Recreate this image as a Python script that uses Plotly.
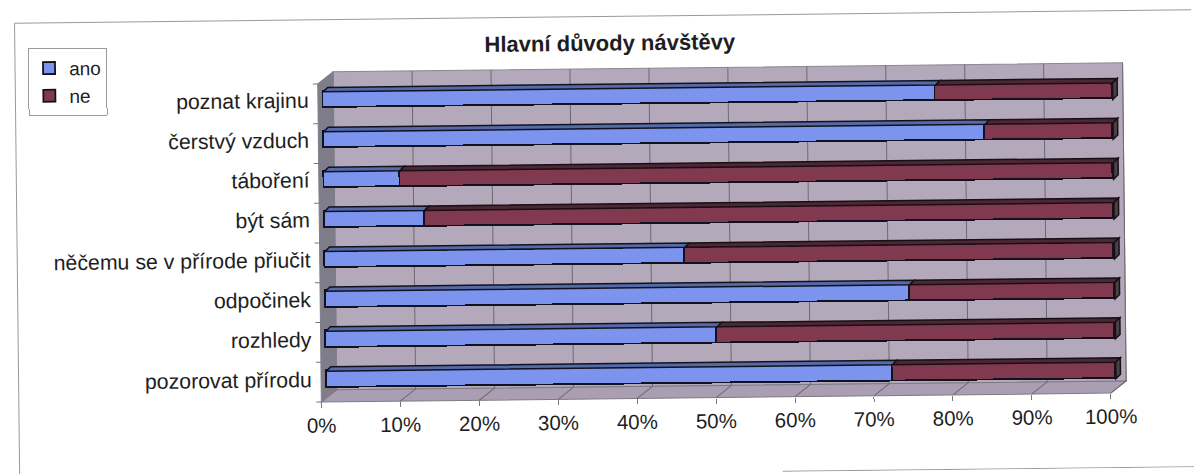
import plotly.graph_objects as go

categories = ["poznat krajinu", "čerstvý vzduch", "táboření", "být sám",
              "něčemu se v přírode přiučit", "odpočinek", "rozhledy", "pozorovat přírodu"]
ano = [77.6, 83.8, 9.6, 12.7, 45.6, 74.0, 49.6, 71.7]
ne = [22.4, 16.2, 90.4, 87.3, 54.4, 26.0, 50.4, 28.3]
pct_ticks = [0, 10, 20, 30, 40, 50, 60, 70, 80, 90, 100]
title = "Hlavní důvody návštěvy"

W, H = 1194, 474
ANGLE = -0.65
L, R, T, B = 319.5, 1109.0, 80.8, 398.9   # front plane, px
DX, DY = 15.5, 12.0                        # box depth, px
BAR_L, BAR_R = 324.8, 1114.3
BAR_TOP, BAR_STEP = 97.0, 39.9
PAD_LO, PAD_HI = 2.0, 3.0                  # spare value range so depth faces are not clipped
BLUE, RED = "#7C94EE", "#80394F"
BLUE_TOP, RED_TOP, RED_SIDE = "#566AA8", "#4C2735", "#4A4048"
WALL, FLOOR, SIDE, GRID = "#B4A9BA", "#AA9EB3", "#7F7D89", "#6E6A70"
INK = "#1E1E1E"
PX_PER_PCT = (BAR_R - BAR_L) / 100


def fx(px):
    return px / W


def fy(py):
    return 1 - py / H


def poly(points, fill, line=None, layer="below", ref=("paper", "paper"), width=1):
    d = "M " + " L ".join(f"{x:.5f},{y:.5f}" for x, y in points) + " Z"
    return dict(type="path", path=d, xref=ref[0], yref=ref[1], fillcolor=fill, layer=layer,
                line=dict(color=line or fill, width=width))


def seg(x0, y0, x1, y1, color=GRID, width=1):
    return dict(type="line", xref="paper", yref="paper", x0=fx(x0), y0=fy(y0), x1=fx(x1), y1=fy(y1),
                line=dict(color=color, width=width), layer="below")


shapes = []
# chart frame
shapes += [seg(17, 16.6, 1194, 16.6, "#9A9A9A"), seg(17, 16.6, 17, 474, "#9A9A9A"), seg(780, 473.4, 1194, 473.4, "#9A9A9A")]
# walls and floor
P = lambda x, y: (fx(x), fy(y))
shapes.append(poly([P(L + DX, T - DY), P(R + DX, T - DY), P(R + DX, B - DY), P(L + DX, B - DY)], WALL, "#8C8790"))
shapes.append(poly([P(L, T), P(L + DX, T - DY), P(L + DX, B - DY), P(L, B)], SIDE))
shapes.append(poly([P(L, B), P(L + DX, B - DY), P(R + DX, B - DY), P(R, B)], FLOOR, "#7D7A82"))
# gridlines, derived from the tick values
for v in pct_ticks:
    px = L + v / 100 * (R - L)
    if v > 0:
        shapes.append(seg(px + DX, T - DY, px + DX, B - DY))
        shapes.append(seg(px, B, px + DX, B - DY))
# category boundary ticks on the value axis
step = (B - T) / len(categories)
for k in range(len(categories) + 1):
    shapes.append(seg(L - 5, T + k * step, L, T + k * step, "#777777"))
# bar depth faces, derived from the data
half = 8.25 / BAR_STEP
ddx = 4.6 / PX_PER_PCT
ddy = 4.4 / BAR_STEP
for i, (a, n) in enumerate(zip(ano, ne)):
    top = i - half
    shapes.append(poly([(0, top), (ddx, top - ddy), (a + ddx, top - ddy), (a, top)],
                       BLUE_TOP, "#10131F", "above", ("x", "y"), 1.5))
    shapes.append(poly([(a, top), (a + ddx, top - ddy), (a + n + ddx, top - ddy), (a + n, top)],
                       RED_TOP, "#1A0F14", "above", ("x", "y"), 1.5))
    end = a + n
    shapes.append(poly([(end, top), (end + ddx, top - ddy), (end + ddx, i + half - ddy), (end, i + half)],
                       RED_SIDE, "#1A0F14", "above", ("x", "y"), 1.5))

ys = list(range(len(categories)))
bar_line = dict(color="#10131F", width=1.8)
fig = go.Figure()
fig.add_trace(go.Bar(name="ano", y=ys, x=ano, orientation="h", width=2 * half, legendgroup="ano",
                     marker=dict(color=BLUE, line=bar_line)))
fig.add_trace(go.Bar(name="ne", y=ys, x=ne, orientation="h", width=2 * half, legendgroup="ne",
                     marker=dict(color=RED, line=bar_line)))
fig.add_trace(go.Scatter(x=[0, 100], y=[0, 0], xaxis="x2", yaxis="y", mode="none",
                         showlegend=False, hoverinfo="skip"))

fig.update_layout(
    width=W, height=H, autosize=False, barmode="stack",
    margin=dict(l=0, r=0, t=0, b=0, autoexpand=False),
    paper_bgcolor="white", plot_bgcolor="rgba(0,0,0,0)",
    font=dict(family="Liberation Sans, Arial, sans-serif", size=20.5, color=INK),
    title=dict(text=f"<b>{title}</b>", x=fx(612), y=fy(43), xanchor="center", yanchor="middle",
               font=dict(size=22, color=INK)),
    xaxis=dict(domain=[fx(BAR_L - PAD_LO * PX_PER_PCT), fx(BAR_R + PAD_HI * PX_PER_PCT)],
               range=[-PAD_LO, 100 + PAD_HI], visible=False),
    xaxis2=dict(domain=[fx(L), fx(R)], range=[0, 100], anchor="y", side="bottom",
                tickvals=pct_ticks, ticktext=[f"{v}%" for v in pct_ticks],
                ticks="outside", ticklen=5, tickcolor="#777777", showgrid=False, zeroline=False,
                showline=False, ticklabelstandoff=0),
    yaxis=dict(domain=[fy(B), fy(T)], anchor="free", position=fx(L),
               range=[(B - BAR_TOP) / BAR_STEP, (T - BAR_TOP) / BAR_STEP],
               tickvals=ys, ticktext=categories, ticks="outside", ticklen=5, tickfont=dict(size=21.3),
               tickcolor="rgba(0,0,0,0)", showgrid=False, zeroline=False, showline=False),
    legend=dict(x=fx(30), y=fy(42), xanchor="left", yanchor="top", bgcolor="white",
                bordercolor="#9C9C9C", borderwidth=1, font=dict(size=19), traceorder="normal",
                itemwidth=30, tracegroupgap=5),
    shapes=shapes,
    bargap=0,
)

post = f"""
document.documentElement.style.overflow='hidden';
document.body.style.margin='0';
document.body.style.overflow='hidden';
var gd=document.getElementById('{{plot_id}}');
gd.style.transformOrigin='{W/2}px {H/2}px';
gd.style.transform='rotate({ANGLE}deg)';
"""
fig.write_html("out.html", post_script=post)
